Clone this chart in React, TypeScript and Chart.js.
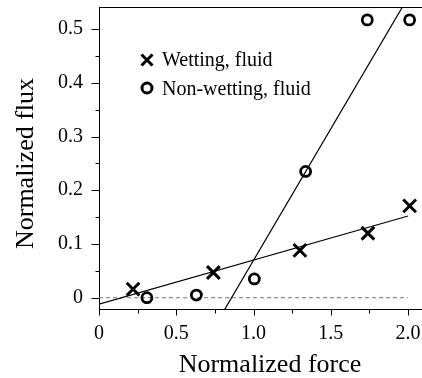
import React, { useEffect, useRef } from 'react';
import { Chart, registerables } from 'chart.js';

Chart.register(...registerables);

// ---- data ----
const wettingForce = [0.22, 0.74, 1.3, 1.74, 2.01];
const wettingFlux = [0.016, 0.047, 0.088, 0.12, 0.171];
const nonWettingForce = [0.31, 0.63, 1.005, 1.337, 1.736, 2.01];
const nonWettingFlux = [0.0, 0.005, 0.035, 0.235, 0.517, 0.517];
const wettingFitForce = [0, 2.0];
const wettingFitFlux = [-0.012, 0.152];
const nonWettingFitForce = [0.78, 2.0];
const nonWettingFitFlux = [-0.038, 0.559];
const zeroLineForce = [0, 2.0];
const zeroLineFlux = [0, 0];

const xMajorTicks = [0, 0.5, 1.0, 1.5, 2.0];
const xTickLabels = ['0', '0.5', '1.0', '1.5', '2.0'];
const xMinorTicks = [0.25, 0.75, 1.25, 1.75];
const yMajorTicks = [0, 0.1, 0.2, 0.3, 0.4, 0.5];
const yTickLabels = ['0', '0.1', '0.2', '0.3', '0.4', '0.5'];
const yMinorTicks = [0.05, 0.15, 0.25, 0.35, 0.45];

const legendLabels = ['Wetting, fluid', 'Non-wetting, fluid'];
const xTitle = 'Normalized force';
const yTitle = 'Normalized flux';

const FONT = "'Liberation Serif', 'Times New Roman', serif";

const pts = (xs: number[], ys: number[]) => xs.map((x, i) => ({ x, y: ys[i] }));

const noPad = (s: any) => {
  s.paddingTop = 0;
  s.paddingBottom = 0;
  s.paddingLeft = 0;
  s.paddingRight = 0;
};

const minorTicksPlugin = {
  id: 'minorTicks',
  afterDraw(chart: any) {
    const ctx = chart.ctx;
    const xs = chart.scales.x;
    const ys = chart.scales.y;
    const { left, bottom } = chart.chartArea;
    ctx.save();
    ctx.strokeStyle = '#000';
    ctx.lineWidth = 1;
    ctx.beginPath();
    const xAxisY = Math.round(bottom) + 0.5;
    xMajorTicks.forEach((v) => {
      const px = Math.round(xs.getPixelForValue(v)) + 0.5;
      ctx.moveTo(px, xAxisY);
      ctx.lineTo(px, xAxisY + 6);
    });
    xMinorTicks.forEach((v) => {
      const px = Math.round(xs.getPixelForValue(v)) + 0.5;
      ctx.moveTo(px, xAxisY);
      ctx.lineTo(px, xAxisY + 4);
    });
    const yAxisX = Math.round(left) + 0.5;
    yMajorTicks.forEach((v) => {
      const py = Math.round(ys.getPixelForValue(v)) + 0.5;
      ctx.moveTo(yAxisX, py);
      ctx.lineTo(yAxisX - 8, py);
    });
    yMinorTicks.forEach((v) => {
      const py = Math.round(ys.getPixelForValue(v)) + 0.5;
      ctx.moveTo(yAxisX, py);
      ctx.lineTo(yAxisX - 4, py);
    });
    ctx.stroke();
    ctx.restore();
  },
};

const axisTitlePlugin = {
  id: 'axisTitles',
  afterDraw(chart: any) {
    const ctx = chart.ctx;
    const { left, bottom } = chart.chartArea;
    ctx.save();
    ctx.fillStyle = '#000';
    ctx.font = `26px ${FONT}`;
    ctx.textAlign = 'center';
    ctx.textBaseline = 'alphabetic';
    ctx.fillText(xTitle, left + 171, bottom + 62.5);
    ctx.translate(left - 66.5, bottom - 145.5);
    ctx.rotate(-Math.PI / 2);
    ctx.fillText(yTitle, 0, 0);
    ctx.restore();
  },
};

const legendPlugin = {
  id: 'insideLegend',
  afterDraw(chart: any) {
    const ctx = chart.ctx;
    const { left, top } = chart.chartArea;
    const mx = left + 48;
    const tx = left + 63;
    ctx.save();
    ctx.strokeStyle = '#000';
    ctx.lineWidth = 3;
    const cy1 = top + 53;
    const r = 5.5;
    ctx.beginPath();
    ctx.moveTo(mx - r, cy1 - r);
    ctx.lineTo(mx + r, cy1 + r);
    ctx.moveTo(mx + r, cy1 - r);
    ctx.lineTo(mx - r, cy1 + r);
    ctx.stroke();
    const cy2 = top + 81;
    ctx.beginPath();
    ctx.arc(mx, cy2, 5, 0, Math.PI * 2);
    ctx.stroke();
    ctx.fillStyle = '#000';
    ctx.font = `20px ${FONT}`;
    ctx.textBaseline = 'alphabetic';
    ctx.textAlign = 'left';
    ctx.fillText(legendLabels[0], tx, top + 59);
    ctx.fillText(legendLabels[1], tx, top + 88);
    ctx.restore();
  },
};

export default function App() {
  const canvasRef = useRef<HTMLCanvasElement | null>(null);

  useEffect(() => {
    document.body.style.margin = '0';
    const canvas = canvasRef.current;
    if (!canvas) return;
    const chart = new Chart(canvas, {
      type: 'scatter',
      data: {
        datasets: [
          {
            label: 'zero',
            data: pts(zeroLineForce, zeroLineFlux),
            showLine: true,
            borderColor: '#777',
            borderWidth: 1,
            borderDash: [4, 3],
            pointRadius: 0,
            order: 5,
          },
          {
            label: 'wetting fit',
            data: pts(wettingFitForce, wettingFitFlux),
            showLine: true,
            borderColor: '#000',
            borderWidth: 1.2,
            pointRadius: 0,
            order: 4,
          },
          {
            label: 'non-wetting fit',
            data: pts(nonWettingFitForce, nonWettingFitFlux),
            showLine: true,
            borderColor: '#000',
            borderWidth: 1.2,
            pointRadius: 0,
            order: 3,
          },
          {
            label: legendLabels[0],
            data: pts(wettingForce, wettingFlux),
            pointStyle: 'crossRot',
            pointRadius: 9,
            borderWidth: 3,
            borderColor: '#000',
            backgroundColor: '#000',
            order: 1,
          },
          {
            label: legendLabels[1],
            data: pts(nonWettingForce, nonWettingFlux),
            pointStyle: 'circle',
            pointRadius: 5,
            borderWidth: 2.8,
            borderColor: '#000',
            backgroundColor: 'rgba(0,0,0,0)',
            order: 2,
          },
        ],
      },
      options: {
        responsive: false,
        animation: false,
        layout: { autoPadding: false, padding: { left: 0, top: 7, right: 0, bottom: 0 } },
        plugins: {
          legend: { display: false },
          tooltip: { enabled: false },
        },
        scales: {
          x: {
            type: 'linear',
            position: 'bottom',
            min: 0,
            max: 2.09,
            afterBuildTicks: (s: any) => {
              s.ticks = xMajorTicks.map((v) => ({ value: v }));
            },
            afterFit: (s: any) => {
              s.height = 69;
              noPad(s);
            },
            ticks: {
              color: '#000',
              font: { family: FONT, size: 20 },
              padding: 13,
              maxRotation: 0,
              autoSkip: false,
              callback: (v: any) => xTickLabels[xMajorTicks.indexOf(Number(v))],
            },
            grid: { display: true, drawOnChartArea: false, drawTicks: false },
            border: { display: true, color: '#000', width: 1 },
          },
          x2: {
            type: 'linear',
            position: 'top',
            min: 0,
            max: 2.09,
            afterFit: (s: any) => {
              s.height = 0;
              noPad(s);
            },
            ticks: { display: false },
            grid: { display: true, drawOnChartArea: false, drawTicks: false },
            border: { display: true, color: '#000', width: 1 },
          },
          y: {
            type: 'linear',
            position: 'left',
            min: -0.021,
            max: 0.541,
            afterBuildTicks: (s: any) => {
              s.ticks = yMajorTicks.map((v) => ({ value: v }));
            },
            afterFit: (s: any) => {
              s.width = 99;
              noPad(s);
            },
            ticks: {
              color: '#000',
              font: { family: FONT, size: 20 },
              padding: 16,
              autoSkip: false,
              callback: (v: any) => yTickLabels[yMajorTicks.indexOf(Number(v))],
            },
            grid: { display: true, drawOnChartArea: false, drawTicks: false },
            border: { display: true, color: '#000', width: 1 },
          },
        },
      } as any,
      plugins: [minorTicksPlugin, axisTitlePlugin, legendPlugin],
    });
    return () => chart.destroy();
  }, []);

  return (
    <div style={{ width: 422, height: 378, position: 'relative' }}>
      <canvas ref={canvasRef} width={422} height={378} style={{ width: 422, height: 378, display: 'block' }} />
    </div>
  );
}
